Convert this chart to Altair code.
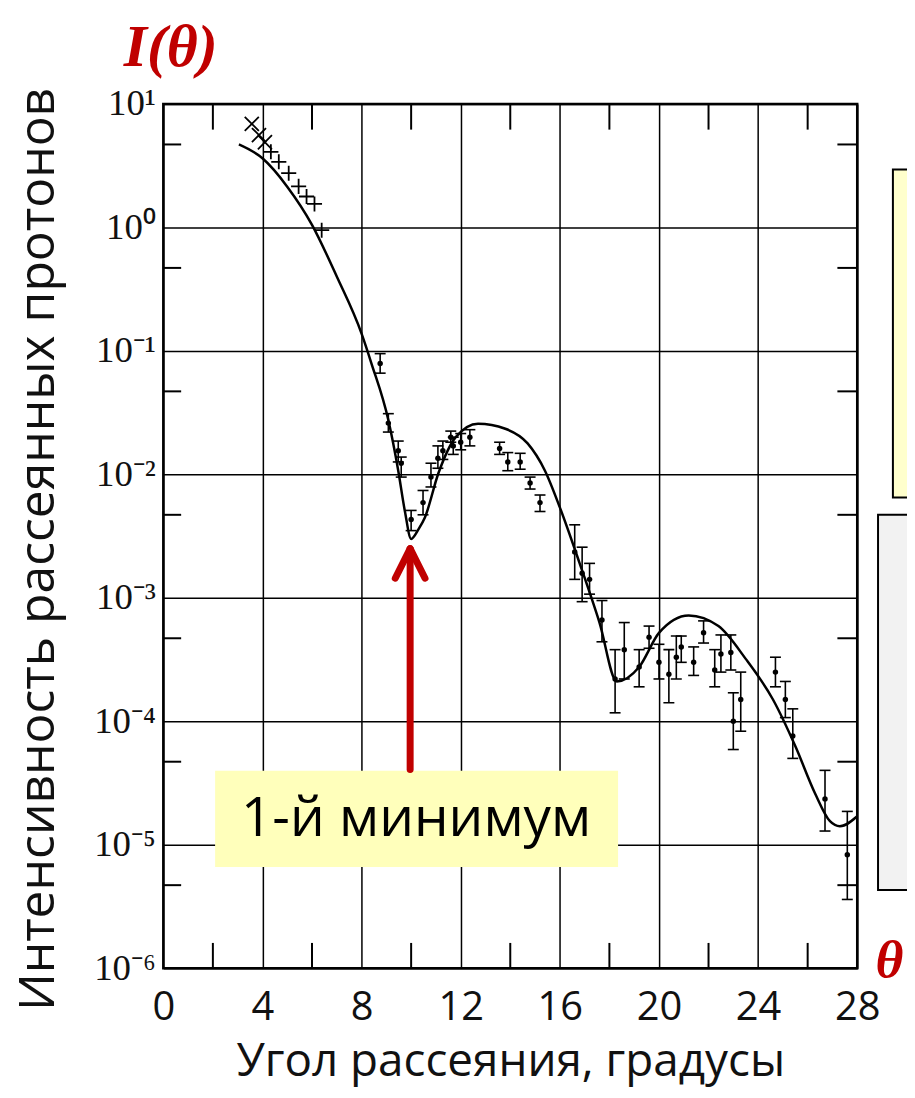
import altair as alt
import pandas as pd

# ---------------- data ----------------
x_ticks = [0, 4, 8, 12, 16, 20, 24, 28]
y_ticks = [1e-6, 1e-5, 1e-4, 1e-3, 1e-2, 1e-1, 1, 10]
x_minor = [2, 6, 10, 14, 18, 22, 26]
y_minor = [4.7, 0.47, 0.047, 0.0047, 4.7e-4, 4.7e-5, 4.7e-6]

# theory curve
curve_theta = [3.05, 4.0, 5.0, 6.0, 7.0, 8.0, 8.4, 9.08, 9.48, 9.75, 10.0, 10.3, 10.56,
               11.1, 11.8, 12.7, 13.8, 14.7, 15.4, 16.0, 16.8, 17.6, 18.3, 19.2, 20.0,
               21.2, 22.4, 23.5, 24.6, 25.5, 26.3, 26.9, 27.3, 28.0]
curve_I = [4.7, 3.63, 2.14, 1.05, 0.40, 0.138, 0.079, 0.0275, 0.0107, 0.005, 0.0030,
           0.0036, 0.0045, 0.0102, 0.020, 0.0257, 0.0234, 0.0178, 0.0107, 0.0054,
           0.0019, 6.3e-4, 2.1e-4, 2.75e-4, 5.2e-4, 7.2e-4, 5.9e-4, 3.2e-4, 1.5e-4,
           6.3e-5, 2.6e-5, 1.55e-5, 1.41e-5, 1.7e-5]

# cross markers (small angles)
cross_theta = [3.57, 3.86, 4.10, 4.34, 4.66, 5.06, 5.46, 5.78, 6.10, 6.39]
cross_I = [6.9, 5.6, 4.9, 4.1, 3.4, 2.75, 2.15, 1.78, 1.55, 0.95]
cross_shape = ["x", "x", "x", "+", "+", "+", "+", "+", "+", "+"]

# data points with error bars
pt_theta = [8.75, 9.08, 9.48, 9.6, 10.0, 10.48, 10.8, 11.08, 11.28, 11.6, 11.7, 12.0,
            12.37, 13.57, 13.9, 14.4, 14.8, 15.2, 16.6, 16.9, 17.2, 17.7, 18.23, 18.6,
            19.2, 19.6, 20.0, 20.4, 20.7, 20.9, 21.4, 21.8, 22.25, 22.5, 22.9, 23.0,
            23.3, 24.7, 25.1, 25.4, 26.7, 27.6]
pt_I = [7.9e-2, 2.6e-2, 1.55e-2, 1.23e-2, 4.3e-3, 5.9e-3, 9.5e-3, 1.35e-2, 1.55e-2,
        2.0e-2, 1.7e-2, 1.82e-2, 2.0e-2, 1.62e-2, 1.26e-2, 1.26e-2, 8.5e-3, 5.9e-3,
        2.35e-3, 1.58e-3, 1.41e-3, 6.6e-4, 2.2e-4, 3.8e-4, 2.75e-4, 4.8e-4, 3.0e-4,
        2.4e-4, 3.3e-4, 4.0e-4, 3.0e-4, 5.2e-4, 2.6e-4, 3.5e-4, 3.6e-4, 1.0e-4,
        1.5e-4, 2.5e-4, 1.5e-4, 7.6e-5, 2.35e-5, 8.3e-6]
pt_lo = [6.6e-2, 2.2e-2, 1.26e-2, 9.5e-3, 3.5e-3, 4.7e-3, 7.9e-3, 1.12e-2, 1.32e-2,
         1.82e-2, 1.45e-2, 1.58e-2, 1.7e-2, 1.45e-2, 1.07e-2, 1.1e-2, 7.6e-3, 5.0e-3,
         1.41e-3, 9.3e-4, 1.07e-3, 4.4e-4, 1.17e-4, 2.2e-4, 1.9e-4, 3.9e-4, 2.2e-4,
         1.41e-4, 2.2e-4, 3.0e-4, 2.35e-4, 4.3e-4, 1.9e-4, 2.5e-4, 2.6e-4, 5.9e-5,
         8.3e-5, 1.9e-4, 1.07e-4, 5.0e-5, 1.29e-5, 3.6e-6]
pt_hi = [9.5e-2, 3.1e-2, 1.86e-2, 1.38e-2, 5.1e-3, 7.4e-3, 1.23e-2, 1.7e-2, 1.86e-2,
         2.24e-2, 2.0e-2, 2.14e-2, 2.3e-2, 1.82e-2, 1.5e-2, 1.48e-2, 9.5e-3, 6.8e-3,
         3.9e-3, 2.57e-3, 1.9e-3, 9.5e-4, 3.8e-4, 6.3e-4, 3.8e-4, 5.9e-4, 4.2e-4,
         3.8e-4, 4.9e-4, 4.9e-4, 4.0e-4, 6.5e-4, 3.8e-4, 5.0e-4, 5.0e-4, 1.7e-4,
         2.5e-4, 3.3e-4, 2.1e-4, 1.26e-4, 4.0e-5, 1.86e-5]

RED = "#C00000"

X = alt.Scale(domain=[0, 28], nice=False, zero=False)
Y = alt.Scale(type="log", domain=[1e-6, 10], nice=False)

label_expr = ("['10\u207b\u2076','10\u207b\u2075','10\u207b\u2074','10\u207b\u00b3',"
              "'10\u207b\u00b2','10\u207b\u00b9','10\u2070','10\u00b9']"
              "[round(log(datum.value)/LN10)+6]")

AX = alt.Axis(
    values=x_ticks, grid=True, ticks=False, domain=False,
    title="Угол рассеяния, градусы", titleFont="Open Sans", titleFontSize=46,
    titleFontWeight="normal", titleColor="#111", titlePadding=12,
    labelFont="Open Sans", labelFontSize=40, labelColor="#111", labelPadding=20,
    labelBaseline="top", labelFlush=False)
AY = alt.Axis(
    values=y_ticks, grid=True, ticks=False, domain=False, labelExpr=label_expr,
    labelFont="Liberation Serif", labelFontSize=37, labelColor="#111", labelPadding=8,
    title="Интенсивность рассеянных протонов", titleFont="Open Sans",
    titleFontSize=50, titleFontWeight="normal", titleColor="#111",
    titleAngle=270, titleX=-125, titleY=447, titleAlign="center",
    titleBaseline="middle")


def xe(f):
    return alt.X(f, scale=X, axis=AX)


def ye(f):
    return alt.Y(f, scale=Y, axis=AY)


# ---------------- main curve ----------------
df_curve = pd.DataFrame({"t": curve_theta, "I": curve_I})
curve = alt.Chart(df_curve).mark_line(color="black", strokeWidth=2.5, interpolate="monotone").encode(
    x=xe("t:Q"), y=ye("I:Q"))

# minor ticks
df_xm = pd.DataFrame({"t": x_minor})
xm_bottom = alt.Chart(df_xm).mark_rule(color="black", strokeWidth=2).encode(
    x=xe("t:Q"), y=ye("lo:Q"), y2="hi:Q").transform_calculate(lo="1e-6", hi="1.6e-6")
xm_top = alt.Chart(df_xm).mark_rule(color="black", strokeWidth=2).encode(
    x=xe("t:Q"), y=ye("lo:Q"), y2="hi:Q").transform_calculate(lo="6.2", hi="10")

df_ym = pd.DataFrame({"I": y_minor})
ym_left = alt.Chart(df_ym).mark_rule(color="black", strokeWidth=2).encode(
    y=ye("I:Q"), x=xe("a:Q"), x2="b:Q").transform_calculate(a="0", b="0.72")
ym_right = alt.Chart(df_ym).mark_rule(color="black", strokeWidth=2).encode(
    y=ye("I:Q"), x=xe("a:Q"), x2="b:Q").transform_calculate(a="27.2", b="28")

# crosses
df_cross = pd.DataFrame({"t": cross_theta, "I": cross_I, "s": cross_shape})
cross_x = alt.Chart(df_cross).transform_filter("datum.s == 'x'").mark_point(
    shape="M-1,-1L1,1M-1,1L1,-1", size=200, filled=False, color="black",
    strokeWidth=1.8, opacity=1).encode(x=xe("t:Q"), y=ye("I:Q"))
cross_p = alt.Chart(df_cross).transform_filter("datum.s == '+'").mark_point(
    shape="M-1,0L1,0M0,-1L0,1", size=230, filled=False, color="black",
    strokeWidth=1.8, opacity=1).encode(x=xe("t:Q"), y=ye("I:Q"))

# error bars and points
df_pts = pd.DataFrame({"t": pt_theta, "I": pt_I, "lo": pt_lo, "hi": pt_hi})
bars = alt.Chart(df_pts).mark_rule(color="black", strokeWidth=1.6).encode(
    x=xe("t:Q"), y=ye("lo:Q"), y2="hi:Q")
cap_lo = alt.Chart(df_pts).mark_tick(orient="horizontal", size=11, thickness=1.6,
                                     color="black", opacity=1).encode(x=xe("t:Q"), y=ye("lo:Q"))
cap_hi = alt.Chart(df_pts).mark_tick(orient="horizontal", size=11, thickness=1.6,
                                     color="black", opacity=1).encode(x=xe("t:Q"), y=ye("hi:Q"))
dots = alt.Chart(df_pts).mark_circle(size=30, color="black", opacity=1).encode(
    x=xe("t:Q"), y=ye("I:Q"))

# ---------------- annotations ----------------
box_df = pd.DataFrame({"x1": [2.09], "x2": [18.35], "y1": [6.6e-6], "y2": [3.98e-5]})
ann_box = alt.Chart(box_df).mark_rect(fill="#FFFFBB").encode(
    x=xe("x1:Q"), x2="x2:Q", y=ye("y1:Q"), y2="y2:Q")

ann_text_df = pd.DataFrame({"t": [10.2], "I": [1.6e-5], "txt": ["1-й минимум"]})
ann_text = alt.Chart(ann_text_df).mark_text(
    font="Open Sans", fontSize=55, color="black", align="center", baseline="middle").encode(
    x=xe("t:Q"), y=ye("I:Q"), text="txt:N")

arrow_df = pd.DataFrame({
    "x1": [9.96, 9.96, 9.96], "x2": [9.96, 9.36, 10.56],
    "y1": [4.07e-5, 2.5e-3, 2.5e-3], "y2": [2.4e-3, 1.44e-3, 1.44e-3]})
arrow = alt.Chart(arrow_df).mark_rule(color=RED, strokeWidth=7, strokeCap="round").encode(
    x=xe("x1:Q"), x2="x2:Q", y=ye("y1:Q"), y2="y2:Q")

side_df = pd.DataFrame({
    "x1": [29.44, 28.84], "x2": [31.5, 31.5],
    "y1": [6.5e-3, 4.3e-6], "y2": [2.94, 4.7e-3],
    "fill": ["#FFFFCC", "#F2F2F2"]})
side = alt.Chart(side_df).mark_rect(stroke="black", strokeWidth=2).encode(
    x=xe("x1:Q"), x2="x2:Q", y=ye("y1:Q"), y2="y2:Q",
    fill=alt.Fill("fill:N", scale=None))

sym_df = pd.DataFrame({"t": [0.3, 29.3], "I": [28.3, 1.15e-6], "txt": ["I(θ)", "θ"],
                       "fs": [60, 54]})
syms = alt.Chart(sym_df).mark_text(
    font="Liberation Serif", fontStyle="italic", fontWeight="bold",
    color=RED, align="center", baseline="middle").encode(
    x=xe("t:Q"), y=ye("I:Q"), text="txt:N",
    size=alt.Size("fs:Q", scale=None, legend=None))

chart = alt.layer(
    curve, side, xm_bottom, xm_top, ym_left, ym_right,
    cross_x, cross_p, bars, cap_lo, cap_hi, dots,
    ann_box, ann_text, arrow, syms
).properties(
    width=697, height=868,
    autosize=alt.AutoSizeParams(type="none"),
    padding={"left": 156, "top": 94, "right": 50, "bottom": 120},
    background="white",
).configure_view(
    stroke="black", strokeWidth=2.5
).configure_axis(
    gridColor="black", gridWidth=1.5, gridOpacity=1
)

chart.save("out.html", embed_options={"renderer": "svg", "actions": False})
